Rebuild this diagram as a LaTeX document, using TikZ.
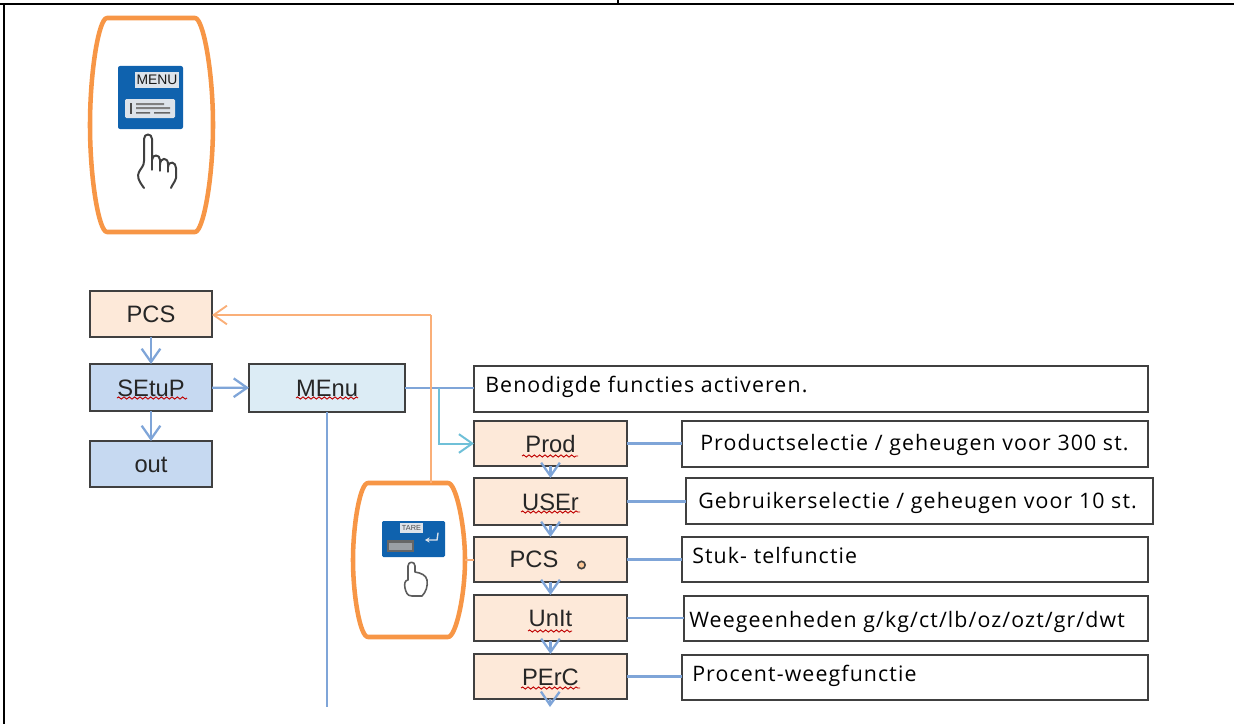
\documentclass[tikz,border=0pt]{standalone}
\usepackage{fontspec}
\setmainfont{Liberation Sans}
\newfontfamily\rtfont[LetterSpace=5.2]{Open Sans}
\usetikzlibrary{arrows.meta,decorations.pathmorphing,calc}
\definecolor{peach}{HTML}{FDE9D9}
\definecolor{midblue}{HTML}{C6D9F1}
\definecolor{paleblue}{HTML}{DCECF5}
\definecolor{edgegray}{HTML}{404040}
\definecolor{orangeline}{HTML}{F79646}
\definecolor{orangethin}{HTML}{FAAF78}
\definecolor{linkblue}{HTML}{7FA5D8}
\definecolor{tealline}{HTML}{6FC0D8}
\definecolor{iconblue}{HTML}{0F62AE}
\definecolor{iconpale}{HTML}{DDE3EA}
\definecolor{handgray}{HTML}{404040}
\tikzset{
  boxbase/.style={draw=edgegray,line width=1.7pt,inner sep=0pt,outer sep=0pt,rectangle},
  keybox/.style={boxbase,font=\fontsize{17.8}{20}\selectfont,text=black!85,text height=12.8pt,text depth=0pt},
  descbox/.style={boxbase,fill=white},
  desctext/.style={inner sep=0pt,anchor=base west,font=\rtfont\fontsize{16}{18}\selectfont,text=black},
  bluearrow/.style={draw=linkblue,line width=1.7pt,-{Straight Barb[length=10pt,width=14pt,line width=1.7pt]}},
  bluelink/.style={draw=linkblue,line width=1.7pt},
  orangearrow/.style={draw=orangethin,line width=1.4pt,-{Straight Barb[length=10pt,width=14pt,line width=1.4pt]}},
  orangelink/.style={draw=orangethin,line width=1.5pt},
  tealarrow/.style={draw=tealline,line width=1.5pt,-{Straight Barb[length=10pt,width=14pt,line width=1.5pt]}},
  oval/.style={draw=orangeline,line width=3.4pt,line join=round},
  hand/.style={draw=handgray,line width=1.5pt,line join=round,line cap=round},
  squiggle/.style={draw=red!75!black,line width=0.7pt,decorate,decoration={snake,amplitude=0.8pt,segment length=4pt}},
}
\newcommand{\pxbox}[7]{%
  \pgfmathsetmacro{\cxv}{(#2+#4)/2}\pgfmathsetmacro{\cyv}{(#3+#5)/2}%
  \pgfmathsetmacro{\wv}{(#4-#2)*0.75}\pgfmathsetmacro{\hv}{(#5-#3)*0.75}%
  \node[#6,minimum width=\wv pt,minimum height=\hv pt] (#1) at (\cxv,\cyv) {#7};}
\begin{document}
\begin{tikzpicture}[x=0.75pt,y=-0.75pt]
\useasboundingbox (0,0) rectangle (1234,724);
% page frame
\draw[black,line width=1.6pt] (0,4) -- (1234,4);
\draw[black,line width=1.6pt] (4,4) -- (4,724);
\draw[black,line width=1.2pt] (618,0) -- (618,4);
% upper oval and icon
\draw[oval] (107,18) -- (195,18) .. controls (203,18) and (213,70) .. (213,125) .. controls (213,180) and (203,232) .. (195,232) -- (107,232) .. controls (99,232) and (90,180) .. (90,125) .. controls (90,70) and (99,18) .. (107,18) -- cycle;
\fill[iconblue,rounded corners=1.5pt] (118,66) rectangle (183,129);
\pxbox{menukey}{135}{72}{179}{88}{fill=iconpale,inner sep=0pt,font=\fontsize{10.4}{11}\selectfont,text=black!90}{MENU}
\fill[iconpale,rounded corners=1pt] (125,99) rectangle (175,118);
\fill[black!70] (130,103) rectangle (132,114);
\fill[black!50] (136,103) rectangle (164,105) (136,107) rectangle (170,109);
\fill[black!60] (136,112) rectangle (150,113.5) (154,112) rectangle (170,113.5);
\draw[hand] (144,188) .. controls (138,180) and (137,176) .. (139,172) .. controls (141,168) and (144,166) .. (144,161) -- (144,139) .. controls (144,133) and (152,133) .. (152,139) -- (152,160) .. controls (152,154) and (160,154) .. (160,160) -- (160,165) .. controls (160,157) and (168,157) .. (168,164) -- (168,167) .. controls (169,160) and (176,162) .. (176,168) -- (176,178) .. controls (175,182) and (172,185) .. (171,188);
\draw[hand,line width=1pt] (152,160) -- (152,170) (160,165) -- (160,171) (168,167) -- (168,172);
% lower oval and icon
\draw[oval] (368,483) -- (448,483) .. controls (456,483) and (465,525) .. (465,560) .. controls (465,595) and (456,637) .. (448,637) -- (368,637) .. controls (360,637) and (353,595) .. (353,560) .. controls (353,525) and (360,483) .. (368,483) -- cycle;
\coordinate (ovaltop) at (431,483);
\coordinate (ovalright) at (465,560);
\fill[iconblue,rounded corners=1pt] (382,521) rectangle (445,557);
\pxbox{tarekey}{400}{523}{423}{533}{fill=iconpale,inner sep=0pt,font=\fontsize{5.5}{6}\selectfont,text=black!70}{TARE}
\fill[black!60] (387,540) rectangle (414,552);
\fill[iconpale!70!black] (389,542.5) rectangle (412,549.5);
\draw[iconpale,line width=1pt,line cap=round,-{Stealth[length=3.5pt,width=4pt]}] (438,533) -- (437,540) -- (425,540);
\draw[hand,line width=1.2pt,draw=handgray!85,fill=white] (412,596) .. controls (407,596) and (406,592) .. (405,588) .. controls (404,584) and (405,580) .. (408,580) -- (408,566) .. controls (408,561) and (415,561) .. (415,566) -- (415,572) .. controls (421,573) and (426,575) .. (427,580) .. controls (428,586) and (426,592) .. (422,596) -- cycle;
% key boxes left
\pxbox{pcsa}{90}{291}{212}{337}{keybox,fill=peach}{PCS}
\pxbox{setup}{90}{364}{212}{411}{keybox,fill=midblue}{SEtuP}
\pxbox{outb}{90}{441}{212}{487}{keybox,fill=midblue}{out}
\pxbox{menu}{249}{364}{405}{412}{keybox,fill=paleblue}{MEnu}
% key boxes column
\pxbox{prod}{474}{421}{627}{466}{keybox,fill=peach}{Prod}
\pxbox{user}{474}{478}{627}{525}{keybox,fill=peach}{USEr}
\pxbox{pcsb}{474}{537}{627}{582}{keybox,fill=peach}{}
\pxbox{unit}{474}{595}{627}{641}{keybox,fill=peach}{UnIt}
\pxbox{perc}{474}{654}{627}{699}{keybox,fill=peach}{PErC}
\node[inner sep=0pt,font=\fontsize{17.8}{20}\selectfont,text=black!85,text height=12.8pt,text depth=0pt] (pcsbtext) at (534,559) {PCS};
\node[draw=black!75,fill=peach!70!orange,circle,line width=1.2pt,minimum size=5.5pt,inner sep=0pt] (pcsdot) at (581.5,565) {};
% description boxes
\pxbox{dben}{474}{366}{1148}{412}{descbox}{}
\pxbox{dprod}{682}{421}{1148}{467}{descbox}{}
\pxbox{duser}{686}{478}{1153}{524}{descbox}{}
\pxbox{dpcs}{682}{537}{1148}{582}{descbox}{}
\pxbox{dunit}{684}{596}{1148}{641}{descbox}{}
\pxbox{dperc}{682}{655}{1148}{700}{descbox}{}
\node[desctext] (tben) at (485,392) {Benodigde functies activeren.};
\node[desctext] (tprod) at (700,450) {Productselectie / geheugen voor 300 st.};
\node[desctext] (tuser) at (698,508) {Gebruikerselectie / geheugen voor 10 st.};
\node[desctext] (tpcs) at (692,563) {Stuk- telfunctie};
\node[desctext] (tunit) at (689,627) {Weegeenheden g/kg/ct/lb/oz/ozt/gr/dwt};
\node[desctext] (tperc) at (692,681) {Procent-weegfunctie};
% spelling marks
\draw[squiggle] (117,398) -- (187,398);
\draw[squiggle] (296,398) -- (358,398);
\draw[squiggle] (522,456) -- (578,456);
\draw[squiggle] (521,512) -- (580,512);
\draw[squiggle] (528,631) -- (572,631);
\draw[squiggle] (521,688) -- (580,688);
% connectors
\draw[bluearrow] (pcsa) -- (setup);
\draw[bluearrow] (setup) -- (outb);
\draw[bluearrow] (setup) -- (menu);
\coordinate (menutail) at (327,707);
\draw[bluelink] (menu.south) -- (menutail);
\draw[bluelink] (menu.east) -- (menu.east -| dben.west);
\coordinate (tee) at (439,388);
\draw[tealarrow] (tee) |- (prod.west);
\draw[orangelink] (ovaltop) -- (431,315);
\draw[orangearrow] (431,315) -- (pcsa.east |- 0,315);
\draw[orangelink] (ovalright) -- (pcsb.west |- ovalright);
\draw[bluearrow] (prod) -- (user);
\draw[bluearrow] (user) -- (pcsb);
\draw[bluearrow] (pcsb) -- (unit);
\draw[bluearrow] (unit) -- (perc);
\coordinate (perctail) at (550,707);
\draw[bluearrow] (perc) -- (perctail);
\draw[bluelink] (prod.east) -- (prod.east -| dprod.west);
\draw[bluelink] (user.east) -- (user.east -| duser.west);
\draw[bluelink] (pcsb.east) -- (pcsb.east -| dpcs.west);
\draw[bluelink] (unit.east) -- (unit.east -| dunit.west);
\draw[bluelink] (perc.east) -- (perc.east -| dperc.west);
\end{tikzpicture}
\end{document}
